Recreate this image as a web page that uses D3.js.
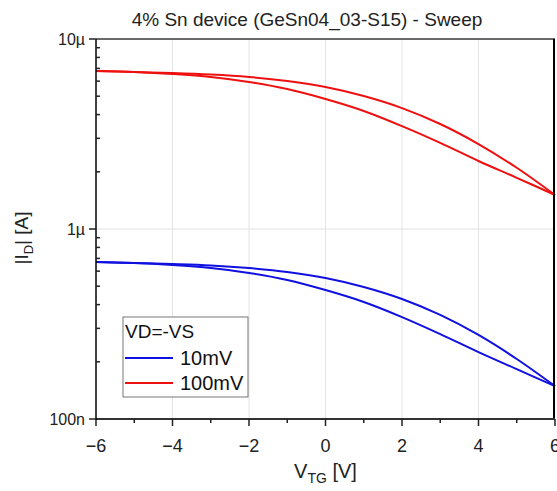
<!DOCTYPE html>
<html>
<head>
<meta charset="utf-8">
<script src="https://cdn.jsdelivr.net/npm/d3@7"></script>
<style>
  body { margin: 0; background: #fff; }
  svg { font-family: "Liberation Sans", Arial, sans-serif; }
</style>
</head>
<body>
<svg id="chart"></svg>
<script>
const WIDTH = 557;
const HEIGHT = 491;

// gate voltage sweep points
const vtg = [-6, -5, -4, -3, -2, -1, 0, 1, 2, 3, 4, 5, 6];

// |ID| in A, two sweep branches per drain bias
const id100Up   = [6.79e-6, 6.70e-6, 6.62e-6, 6.50e-6, 6.31e-6, 6.01e-6, 5.59e-6, 5.01e-6, 4.33e-6, 3.57e-6, 2.80e-6, 2.10e-6, 1.51e-6];
const id100Down = [6.79e-6, 6.70e-6, 6.54e-6, 6.31e-6, 5.94e-6, 5.45e-6, 4.83e-6, 4.18e-6, 3.48e-6, 2.84e-6, 2.28e-6, 1.86e-6, 1.51e-6];
const id10Up    = [0.670e-6, 0.662e-6, 0.654e-6, 0.643e-6, 0.623e-6, 0.594e-6, 0.552e-6, 0.495e-6, 0.428e-6, 0.353e-6, 0.277e-6, 0.207e-6, 0.149e-6];
const id10Down  = [0.670e-6, 0.662e-6, 0.646e-6, 0.623e-6, 0.587e-6, 0.539e-6, 0.477e-6, 0.413e-6, 0.344e-6, 0.280e-6, 0.225e-6, 0.183e-6, 0.149e-6];

const xTicks = [-6, -4, -2, 0, 2, 4, 6];
const xMinor = [-5, -3, -1, 1, 3, 5];
const yTicks = [1e-7, 1e-6, 1e-5];
const yTickLabels = ["100n", "1\u00b5", "10\u00b5"];

const legendTitle = "VD=-VS";
const seriesNames = ["10mV", "100mV"];
const seriesColors = ["#1010e0", "#ee1010"];

window.onload = function(){
    makeChart();
};

function makeChart(){
    const margin = {left: 96, right: 2, top: 39, bottom: 72};
    const svg = d3.select('#chart')
        .attr('width', WIDTH)
        .attr('height', HEIGHT);

    const x = d3.scaleLinear().domain([-6, 6]).range([margin.left, WIDTH - margin.right]);
    const y = d3.scaleLog().domain([1e-7, 1e-5]).range([HEIGHT - margin.bottom, margin.top]);

    const x0 = x.range()[0], x1 = x.range()[1];
    const y0 = y.range()[0], y1 = y.range()[1];

    // grid
    svg.append('g').selectAll('line')
        .data(xTicks.slice(1, -1))
        .enter().append('line')
        .attr('x1', d => x(d)).attr('x2', d => x(d))
        .attr('y1', y1).attr('y2', y0)
        .style('stroke', '#e3e3e3').style('stroke-width', 1);
    svg.append('line')
        .attr('x1', x0).attr('x2', x1)
        .attr('y1', y(1e-6)).attr('y2', y(1e-6))
        .style('stroke', '#e3e3e3').style('stroke-width', 1);

    // curves
    const line = d3.line()
        .x((d, i) => x(vtg[i]))
        .y(d => y(d))
        .curve(d3.curveCatmullRom.alpha(0.5));

    const curves = [
        {vals: id10Up, c: seriesColors[0]},
        {vals: id10Down, c: seriesColors[0]},
        {vals: id100Up, c: seriesColors[1]},
        {vals: id100Down, c: seriesColors[1]}
    ];
    svg.append('g').selectAll('path')
        .data(curves)
        .enter().append('path')
        .attr('d', d => line(d.vals))
        .style('fill', 'none')
        .style('stroke', d => d.c)
        .style('stroke-width', 2);

    // frame
    svg.append('line').attr('x1', x0).attr('x2', x1).attr('y1', y1).attr('y2', y1)
        .style('stroke', '#6a6a6a').style('stroke-width', 2);
    svg.append('line').attr('x1', x1 - 1).attr('x2', x1 - 1).attr('y1', y1).attr('y2', y0)
        .style('stroke', '#000').style('stroke-width', 2);

    // x axis
    const xAxis = svg.append('g');
    xAxis.append('line').attr('x1', x0).attr('x2', x1).attr('y1', y0).attr('y2', y0)
        .style('stroke', '#333').style('stroke-width', 2);
    xAxis.selectAll('.maj').data(xTicks).enter().append('line')
        .attr('x1', d => x(d)).attr('x2', d => x(d))
        .attr('y1', y0).attr('y2', y0 + 7)
        .style('stroke', '#222').style('stroke-width', 1.5);
    xAxis.selectAll('.min').data(xMinor).enter().append('line')
        .attr('x1', d => x(d)).attr('x2', d => x(d))
        .attr('y1', y0).attr('y2', y0 + 4)
        .style('stroke', '#222').style('stroke-width', 1.5);
    xAxis.selectAll('text').data(xTicks).enter().append('text')
        .attr('x', d => x(d)).attr('y', y0 + 33)
        .attr('text-anchor', 'middle')
        .style('font-size', '18px').style('fill', '#222')
        .text(d => d < 0 ? '\u2212' + Math.abs(d) : d);

    // y axis
    const yAxis = svg.append('g');
    yAxis.append('line').attr('x1', x0).attr('x2', x0).attr('y1', y1).attr('y2', y0 + 1)
        .style('stroke', '#000').style('stroke-width', 1.5);
    yAxis.selectAll('.maj').data(yTicks).enter().append('line')
        .attr('x1', x0 - 7).attr('x2', x0)
        .attr('y1', d => y(d)).attr('y2', d => y(d))
        .style('stroke', '#222').style('stroke-width', 1.5);
    const minors = [];
    [1e-7, 1e-6].forEach(dec => { for (let k = 2; k <= 9; k++) minors.push(dec * k); });
    yAxis.selectAll('.min').data(minors).enter().append('line')
        .attr('x1', x0).attr('x2', x0 + 4)
        .attr('y1', d => y(d)).attr('y2', d => y(d))
        .style('stroke', '#222').style('stroke-width', 1.5);
    yAxis.selectAll('text').data(yTicks).enter().append('text')
        .attr('x', x0 - 11).attr('y', d => y(d) + 6)
        .attr('text-anchor', 'end')
        .style('font-size', '16px').style('fill', '#222')
        .text((d, i) => yTickLabels[i]);

    // title
    svg.append('text')
        .attr('x', 307).attr('y', 26)
        .attr('text-anchor', 'middle')
        .style('font-size', '19px').style('fill', '#222')
        .text('4% Sn device (GeSn04_03-S15) - Sweep');

    // axis labels
    const xl = svg.append('text')
        .attr('x', (x0 + x1) / 2).attr('y', 478)
        .attr('text-anchor', 'middle')
        .style('font-size', '20px').style('fill', '#222');
    xl.append('tspan').text('V');
    xl.append('tspan').attr('dy', 5).style('font-size', '14px').text('TG');
    xl.append('tspan').attr('dy', -5).text(' [V]');

    const yl = svg.append('text')
        .attr('transform', `translate(28, 238) rotate(-90)`)
        .attr('text-anchor', 'middle')
        .style('font-size', '19px').style('fill', '#222');
    yl.append('tspan').text('|I');
    yl.append('tspan').attr('dy', 5).style('font-size', '13px').text('D');
    yl.append('tspan').attr('dy', -5).text('| [A]');

    // legend
    const lg = svg.append('g').attr('transform', 'translate(123, 317)');
    lg.append('rect').attr('width', 125).attr('height', 80)
        .style('fill', '#fff').style('stroke', '#777').style('stroke-width', 1);
    lg.append('text').attr('x', 2).attr('y', 21)
        .style('font-size', '19px').style('fill', '#111').text(legendTitle);
    seriesNames.forEach((name, i) => {
        const yy = 41 + i * 25;
        lg.append('line').attr('x1', 2).attr('x2', 50).attr('y1', yy).attr('y2', yy)
            .style('stroke', seriesColors[i]).style('stroke-width', 2);
        lg.append('text').attr('x', 57).attr('y', yy + 7)
            .style('font-size', '20px').style('fill', '#111').text(name);
    });
}
</script>
</body>
</html>
